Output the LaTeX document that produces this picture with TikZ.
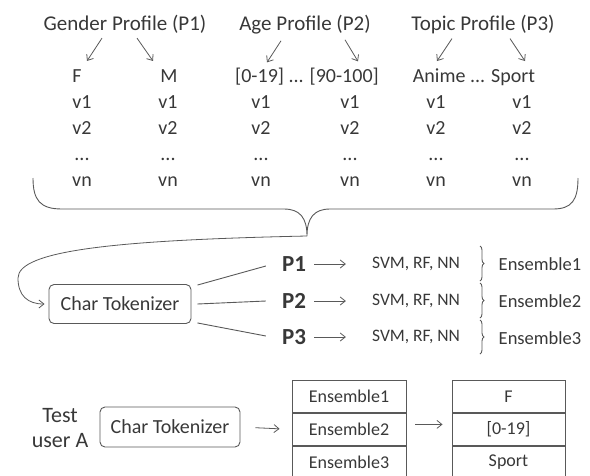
\documentclass[tikz,border=0pt]{standalone}
\usepackage{fontspec}
\setmainfont{Carlito}
\usetikzlibrary{arrows.meta,positioning,decorations.pathreplacing}
\definecolor{ink}{gray}{0.22}
\definecolor{rule}{gray}{0.35}

\begin{document}
\begin{tikzpicture}[x=1pt,y=-1pt,
  every node/.style={text=ink,inner sep=2pt},
  hdr/.style={font=\fontsize{21}{25}\selectfont,anchor=base},
  val/.style={font=\fontsize{20}{24}\selectfont,anchor=base},
  pnode/.style={font=\fontsize{23}{27}\selectfont\bfseries},
  mdl/.style={font=\fontsize{17.5}{21}\selectfont},
  ens/.style={font=\fontsize{18.5}{22}\selectfont},
  tok/.style={draw=rule,rounded corners=5pt,line width=0.9pt,minimum width=142pt,
              minimum height=39pt,font=\fontsize{20}{24}\selectfont},
  cell/.style={draw=rule,line width=0.9pt,minimum width=114pt,minimum height=32pt,
               font=\fontsize{18}{22}\selectfont},
  arr/.style={-{Straight Barb[length=5pt,width=8pt]},line width=0.8pt,draw=rule},
  line/.style={line width=0.9pt,draw=rule},
  rbrace/.style={line,decorate,decoration={brace,amplitude=4pt,aspect=0.5}}
]
\useasboundingbox (0,0) rectangle (590,475);

% profile headers
\node[hdr] (gen) at (125,30) {Gender Profile (P1)};
\node[hdr] (age) at (305,30) {Age Profile (P2)};
\node[hdr] (top) at (483,30) {Topic Profile (P3)};

% class labels
\node[val] (f) at (77,82) {F};
\node[val] (m) at (169,82) {M};
\node[val] (ages) at (307,82) {[0-19] ... [90-100]};
\node[val] (topics) at (474,82) {Anime ... Sport};

\draw[arr] ([xshift=-23pt,yshift=-3pt]gen.south) -- ([xshift=10pt,yshift=6pt]f.north);
\draw[arr] ([xshift=12pt,yshift=-3pt]gen.south) -- ([xshift=-16pt,yshift=6pt]m.north);
\draw[arr] ([xshift=-24pt,yshift=-5pt]age.south) -- ([xshift=-40pt,yshift=3pt]ages.north);
\draw[arr] ([xshift=40pt,yshift=-4pt]age.south) -- ([xshift=51pt,yshift=4pt]ages.north);
\draw[arr] ([xshift=-31pt,yshift=-3pt]top.south) -- ([xshift=-37pt,yshift=5pt]topics.north);
\draw[arr] ([xshift=27pt,yshift=-3pt]top.south) -- ([xshift=51pt,yshift=5pt]topics.north);

% feature vectors
\foreach \x [count=\i] in {82,168,261,350,436,522} {
  \node[val] (va\i) at (\x,108) {v1};
  \node[val] (vb\i) at (\x,134) {v2};
  \node[val] (vc\i) at (\x,160) {...};
  \node[val] (vd\i) at (\x,186) {vn};
}

% brace over all profiles
\coordinate (btip) at (307,236);
\draw[line] (33,178) .. controls (33,200) and (40,209) .. (62,209) -- (284,209)
  .. controls (300,209) and (307,218) .. (btip)
  .. controls (307,218) and (314,209) .. (330,209) -- (553,209)
  .. controls (572,209) and (578,200) .. (578,178);

% training path
\node[tok] (tok) at (120,304) {Char Tokenizer};
\draw[arr,shorten >=4pt] (btip) .. controls (120,240) and (18,250) .. (18,278)
  .. controls (18,296) and (28,304) .. (tok.west);

\node[pnode] (p1) at (294,264) {P1};
\node[pnode] (p2) at (294,301) {P2};
\node[pnode] (p3) at (294,337) {P3};

\draw[line] ([xshift=6pt,yshift=-1pt]tok.north east) -- ([xshift=-14pt,yshift=-2pt]p1.west);
\draw[line] ([xshift=6pt]tok.east) -- ([xshift=-14pt]p2.west);
\draw[line] ([xshift=6pt,yshift=1pt]tok.south east) -- ([xshift=-14pt,yshift=1pt]p3.west);

\node[mdl] (m1) at (416,264) {SVM, RF, NN};
\node[mdl] (m2) at (416,301) {SVM, RF, NN};
\node[mdl] (m3) at (416,337) {SVM, RF, NN};
\draw[arr,shorten <=6pt,shorten >=24pt] (p1.east) -- (m1.west);
\draw[arr,shorten <=6pt,shorten >=24pt] (p2.east) -- (m2.west);
\draw[arr,shorten <=6pt,shorten >=24pt] (p3.east) -- (m3.west);

\draw[rbrace] (480,246) -- (480,281);
\draw[rbrace] (480,283) -- (480,318);
\draw[rbrace] (480,320) -- (480,354);

\node[ens] (e1) at (540,264) {Ensemble1};
\node[ens] (e2) at (540,301) {Ensemble2};
\node[ens] (e3) at (540,338) {Ensemble3};

% test path
\node[align=center,font=\fontsize{22}{25}\selectfont] (test) at (60,428) {Test\\user A};
\node[tok,minimum width=140pt,minimum height=40pt] (tok2) at (170,427) {Char Tokenizer};

\node[cell] (c1) at (349,396.5) {Ensemble1};
\node[cell,below=0pt of c1] (c2) {Ensemble2};
\node[cell,below=0pt of c2] (c3) {Ensemble3};

\node[cell,minimum width=113pt] (d1) at (508.5,396.5) {F};
\node[cell,minimum width=113pt,below=0pt of d1] (d2) {[0-19]};
\node[cell,minimum width=113pt,below=0pt of d2] (d3) {Sport};

\draw[arr,shorten <=15pt,shorten >=12pt] (tok2.east) -- (c2.west);
\draw[arr,shorten <=9pt,shorten >=9pt] ([yshift=5pt]c2.east) -- ([yshift=5pt]d2.west);
\end{tikzpicture}
\end{document}
